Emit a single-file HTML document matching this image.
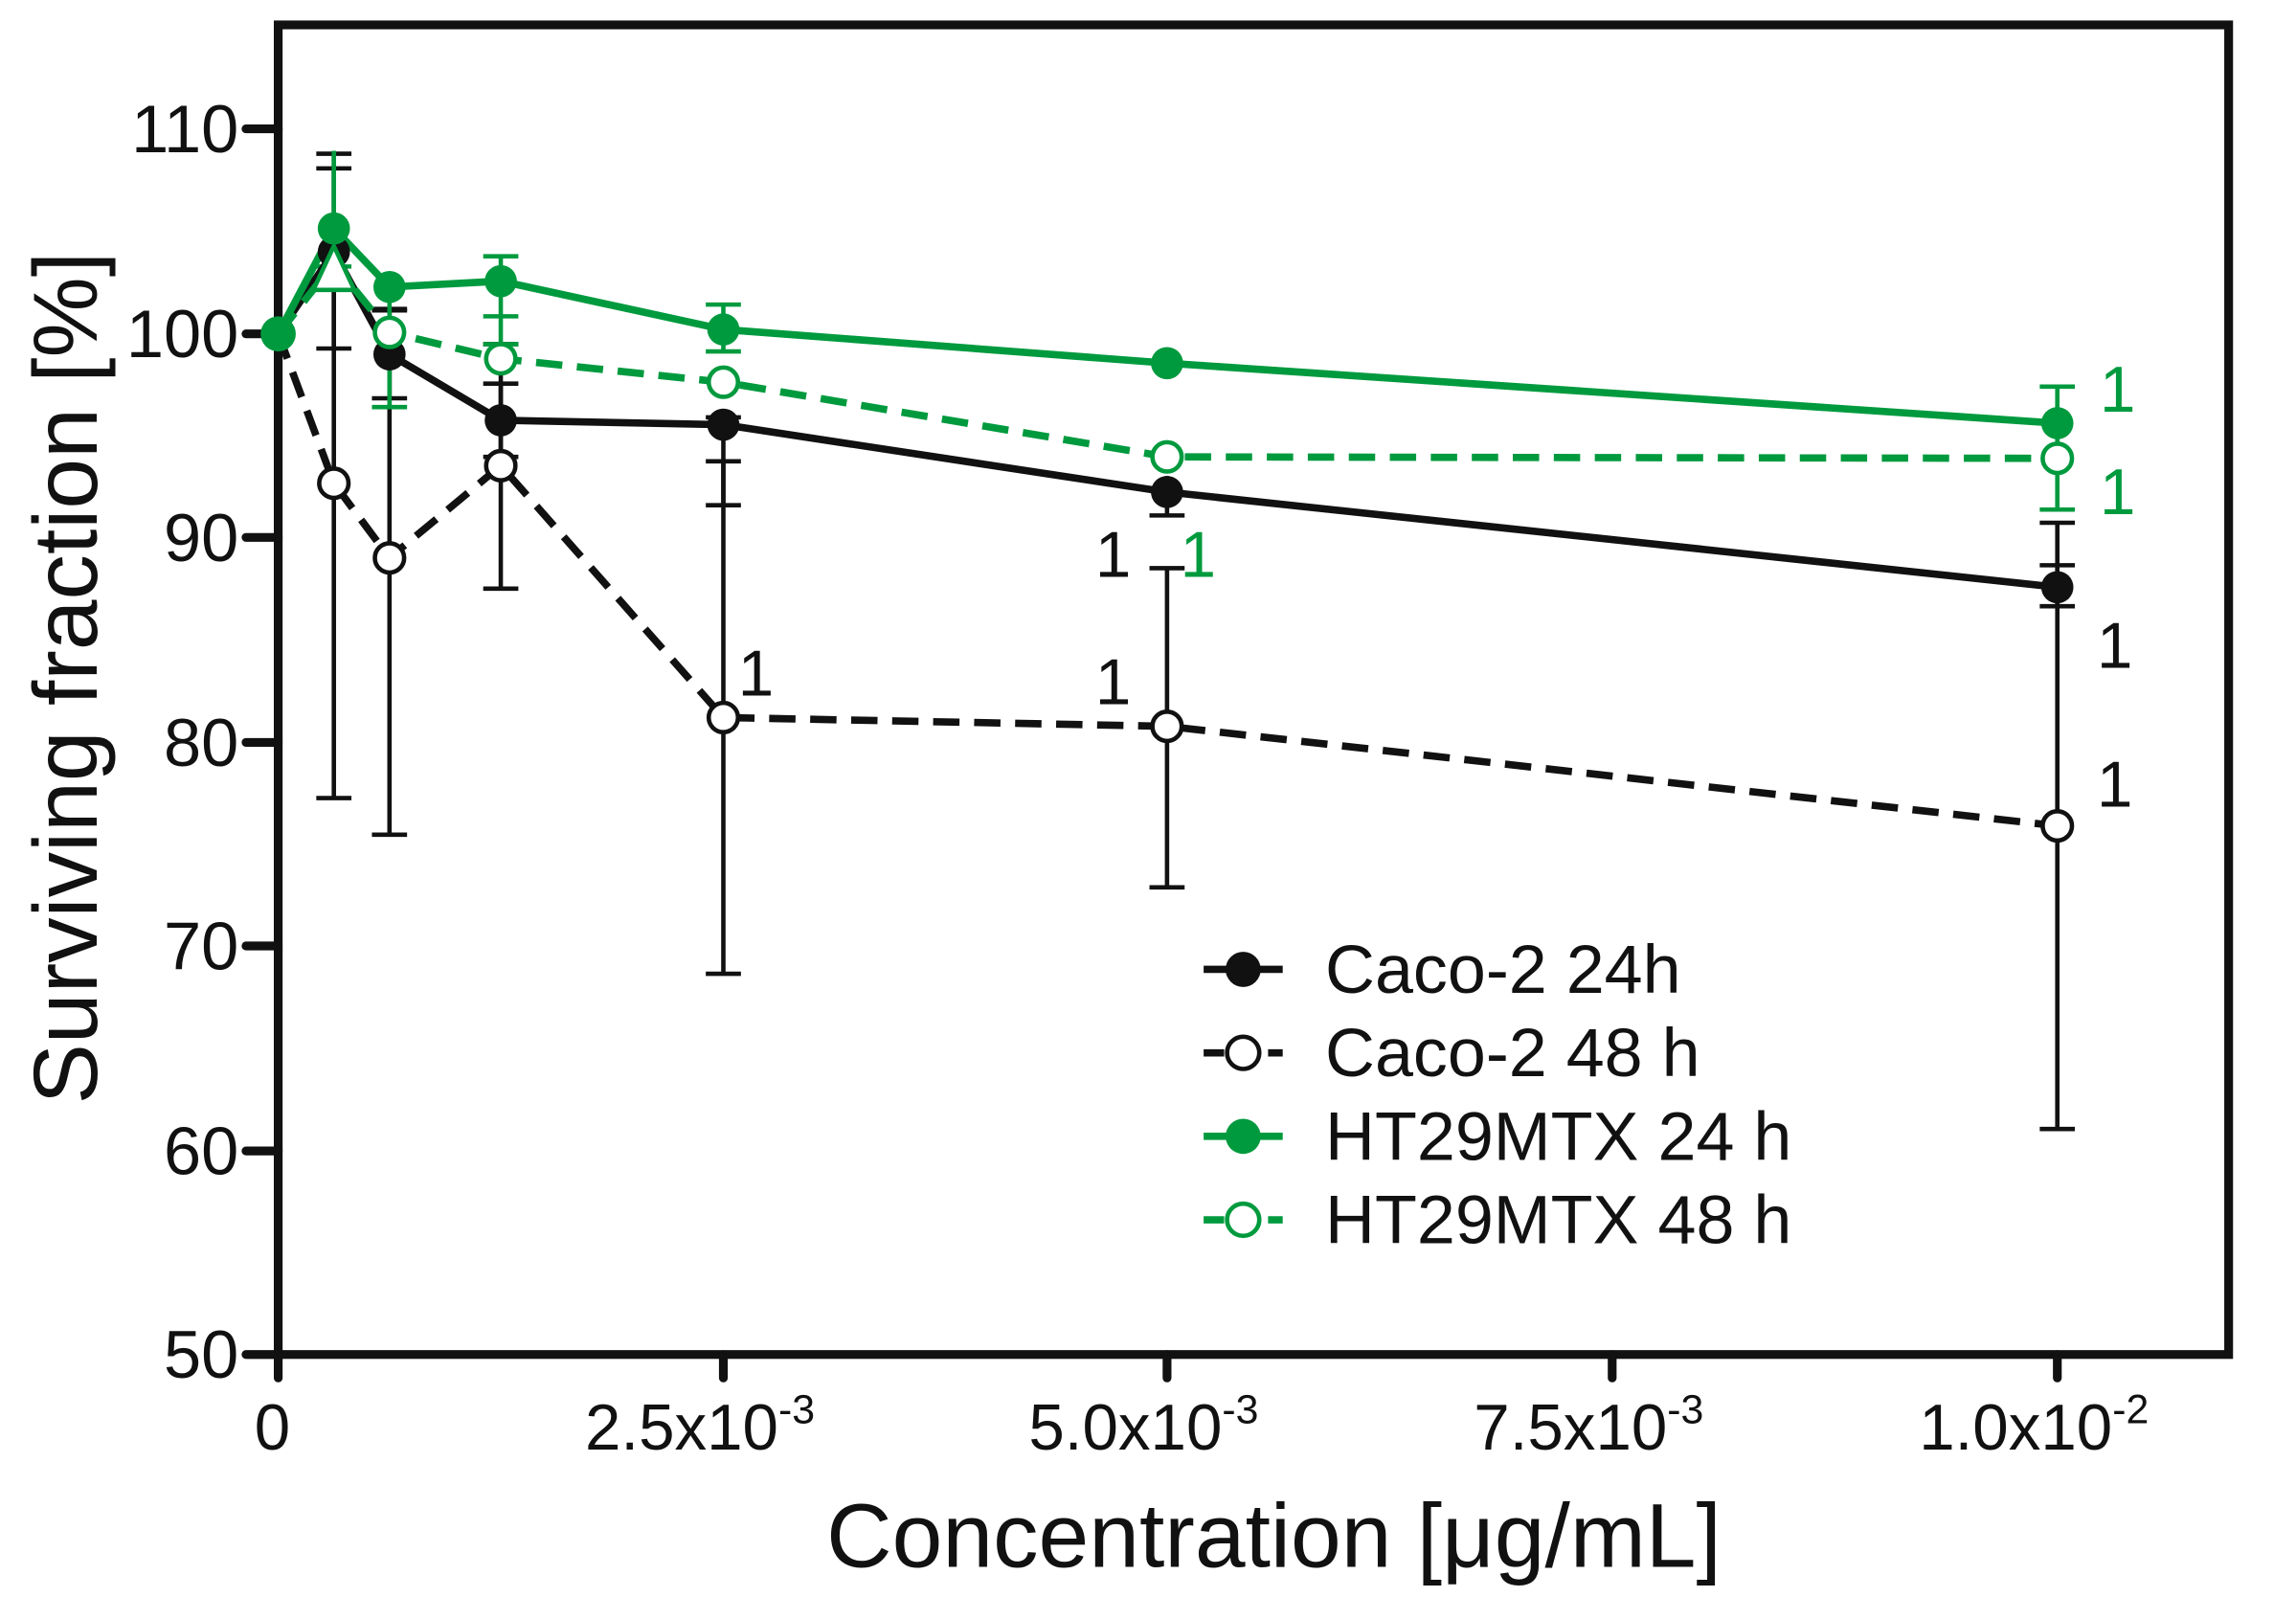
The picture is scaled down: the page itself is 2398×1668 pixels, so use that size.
<!DOCTYPE html>
<html><head><meta charset="utf-8"><style>html,body{margin:0;padding:0;background:#fff;}svg{display:block}</style></head>
<body>
<svg width="2398" height="1668" viewBox="0 0 1568 1090.6" preserveAspectRatio="none" xmlns="http://www.w3.org/2000/svg" font-family="Liberation Sans, Arial, sans-serif">
<rect width="1568" height="1091" fill="#fff"/>
<g stroke="#111" stroke-width="6" fill="none" stroke-linecap="round">
<rect x="190" y="17" width="1332" height="908"/>
<line x1="168" y1="88" x2="190" y2="88"/><line x1="168" y1="228" x2="190" y2="228"/>
<line x1="168" y1="367" x2="190" y2="367"/><line x1="168" y1="507" x2="190" y2="507"/>
<line x1="168" y1="646" x2="190" y2="646"/><line x1="168" y1="786" x2="190" y2="786"/>
<line x1="168" y1="925" x2="190" y2="925"/>
<line x1="190" y1="925" x2="190" y2="941"/><line x1="494" y1="925" x2="494" y2="941"/>
<line x1="797" y1="925" x2="797" y2="941"/><line x1="1101" y1="925" x2="1101" y2="941"/>
<line x1="1405" y1="925" x2="1405" y2="941"/>
</g>
<g font-size="46" fill="#111" text-anchor="end">
<text x="163" y="104">110</text><text x="163" y="244">100</text><text x="163" y="383">90</text>
<text x="163" y="523">80</text><text x="163" y="662">70</text><text x="163" y="802">60</text><text x="163" y="941">50</text>
</g>
<g font-size="44" fill="#111" text-anchor="middle">
<text x="186" y="990">0</text>
<text x="478" y="990">2.5x10<tspan font-size="28" dy="-18">-3</tspan></text>
<text x="781" y="990">5.0x10<tspan font-size="28" dy="-18">-3</tspan></text>
<text x="1085" y="990">7.5x10<tspan font-size="28" dy="-18">-3</tspan></text>
<text x="1389" y="990">1.0x10<tspan font-size="28" dy="-18">-2</tspan></text>
</g>
<text x="870" y="1070" font-size="62" text-anchor="middle" fill="#111">Concentration [μg/mL]</text>
<text transform="translate(66,463) rotate(-90)" font-size="62" text-anchor="middle" fill="#111">Surviving fraction [%]</text>

<g stroke="#111" stroke-width="3" fill="none">
<path d="M228 105V545M216 105h24M216 545h24"/>
<path d="M266 212V570M254 212h24M254 570h24"/>
<path d="M342 235V402M330 235h24M330 402h24"/>
<path d="M494 315V665M482 315h24M482 665h24"/>
<path d="M797 388V606M785 388h24M785 606h24"/>
<path d="M1405 357V771M1393 357h24M1393 771h24"/>
<path d="M228 115V238M216 115h24M216 238h24"/>
<path d="M266 211V272M254 211h24M254 272h24"/>
<path d="M342 262V312M330 262h24M330 312h24"/>
<path d="M494 285V345M482 285h24M482 345h24"/>
<path d="M797 325V352M785 352h24"/>
<path d="M1405 386V414M1393 386h24M1393 414h24"/>
</g>
<g stroke="#009a3e" stroke-width="3" fill="none">
<path d="M228 103V182M216 182h24"/>
<path d="M266 196V278M254 278h24"/>
<path d="M342 175V235M330 175h24M330 216h24M330 235h24"/>
<path d="M494 208V240M482 208h24M482 240h24"/>
<path d="M1405 264V348M1393 264h24M1393 348h24"/>
</g>

<polyline points="190,228 228,330 266,381 342,318 494,490 797,496 1405,564" fill="none" stroke="#111" stroke-width="5" stroke-dasharray="18,10"/>
<polyline points="190,228 228,172 266,242 342,287 494,290 797,336 1405,401" fill="none" stroke="#111" stroke-width="5"/>
<polyline points="190,228 228,180 266,227 342,245 494,261 797,312 1405,313" fill="none" stroke="#009a3e" stroke-width="5" stroke-dasharray="18,10"/>
<polyline points="190,228 228,156 266,196 342,192 494,225 797,248 1405,289" fill="none" stroke="#009a3e" stroke-width="5"/>

<g fill="#111"><circle cx="228" cy="172" r="11"/><circle cx="266" cy="242" r="11"/><circle cx="342" cy="287" r="11"/><circle cx="494" cy="290" r="11"/><circle cx="797" cy="336" r="11"/><circle cx="1405" cy="401" r="11"/></g>
<g fill="#fff" stroke="#111" stroke-width="3"><circle cx="228" cy="330" r="10"/><circle cx="266" cy="381" r="10"/><circle cx="342" cy="318" r="10"/><circle cx="494" cy="490" r="10"/><circle cx="797" cy="496" r="10"/><circle cx="1405" cy="564" r="10"/></g>
<g fill="#fff" stroke="#009a3e" stroke-width="3"><circle cx="266" cy="227" r="10"/><circle cx="342" cy="245" r="10"/><circle cx="494" cy="261" r="10"/><circle cx="797" cy="312" r="10"/><circle cx="1405" cy="313" r="10"/></g>
<path d="M228 168L214 198H242Z" fill="#fff" stroke="#009a3e" stroke-width="3"/>
<g fill="#009a3e"><circle cx="190" cy="228" r="12"/><circle cx="228" cy="156" r="11"/><circle cx="266" cy="196" r="11"/><circle cx="342" cy="192" r="11"/><circle cx="494" cy="225" r="11"/><circle cx="797" cy="248" r="11"/><circle cx="1405" cy="289" r="11"/></g>

<g font-size="44">
<text x="1434" y="281" fill="#009a3e">1</text><text x="1434" y="351" fill="#009a3e">1</text>
<text x="806" y="394" fill="#009a3e">1</text><text x="748" y="394" fill="#111">1</text>
<text x="504" y="475" fill="#111">1</text><text x="748" y="481" fill="#111">1</text>
<text x="1432" y="456" fill="#111">1</text><text x="1432" y="551" fill="#111">1</text>
</g>

<g stroke-width="5" fill="none">
<line x1="822" y1="662" x2="876" y2="662" stroke="#111"/>
<line x1="822" y1="719" x2="876" y2="719" stroke="#111" stroke-dasharray="14,8"/>
<line x1="822" y1="776" x2="876" y2="776" stroke="#009a3e"/>
<line x1="822" y1="833" x2="876" y2="833" stroke="#009a3e" stroke-dasharray="14,8"/>
</g>
<circle cx="849" cy="662" r="12" fill="#111"/>
<circle cx="849" cy="719" r="11" fill="#fff" stroke="#111" stroke-width="3"/>
<circle cx="849" cy="776" r="12" fill="#009a3e"/>
<circle cx="849" cy="833" r="11" fill="#fff" stroke="#009a3e" stroke-width="3"/>
<g font-size="47" fill="#111">
<text x="905" y="678">Caco-2 24h</text><text x="905" y="735">Caco-2 48 h</text>
<text x="905" y="792">HT29MTX 24 h</text><text x="905" y="849">HT29MTX 48 h</text>
</g>
</svg>
</body></html>
